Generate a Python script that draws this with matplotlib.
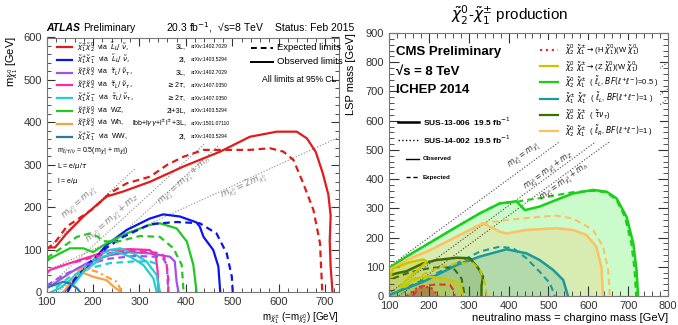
import matplotlib
matplotlib.use('Agg')
import matplotlib.pyplot as plt
from matplotlib.ticker import MultipleLocator
from matplotlib.patches import Rectangle

plt.rcParams['font.family'] = ['Liberation Sans', 'DejaVu Sans']
plt.rcParams['mathtext.fontset'] = 'dejavusans'

# ---------------- ATLAS (left) contours ----------------
red_obs_x = [100, 118, 143, 179, 229, 265, 323, 395, 474, 538, 596, 639, 661, 680, 695, 707, 712, 710, 712, 716]
red_obs_y = [105, 105, 138, 178, 225, 237, 260, 296, 331, 366, 378, 378, 362, 330, 280, 230, 180, 120, 60, 0]
red_exp_x = [100, 120, 143, 201, 236, 272, 323, 360, 395, 438, 538, 581, 610, 632, 653, 675, 689, 694]
red_exp_y = [100, 120, 154, 197, 233, 256, 272, 300, 319, 335, 335, 339, 331, 311, 256, 193, 115, 0]

blue_obs_x = [136, 150, 186, 229, 272, 322, 351, 387, 423, 430, 438, 459, 470, 474]
blue_obs_y = [0, 13, 56, 111, 146, 173, 183, 178, 164, 154, 130, 99, 60, 0]
blue_exp_x = [145, 160, 195, 230, 265, 300, 323, 380, 430, 466, 488, 499, 501]
blue_exp_y = [0, 30, 72, 105, 130, 148, 160, 165, 162, 138, 91, 36, 0]

green_obs_x = [100, 107, 150, 179, 200, 229, 272, 322, 344, 380, 402, 416, 423]
green_obs_y = [72, 79, 103, 103, 94, 115, 138, 158, 162, 150, 119, 64, 0]
green_exp_x = [100, 136, 165, 193, 211, 220, 250, 301, 344, 373, 391, 395]
green_exp_y = [80, 107, 130, 138, 130, 120, 118, 132, 130, 103, 64, 0]

purple_obs_x = [110, 150, 190, 236, 280, 322, 366, 376, 380, 384]
purple_obs_y = [15, 45, 70, 87, 94, 91, 83, 72, 24, 0]
purple_exp_x = [100, 107, 136, 180, 230, 290, 340, 351, 359, 362]
purple_exp_y = [15, 20, 40, 62, 78, 85, 83, 79, 64, 0]

magenta_obs_x = [100, 107, 150, 193, 236, 280, 322, 335, 339, 341]
magenta_obs_y = [44, 52, 68, 83, 99, 101, 99, 85, 50, 0]
magenta_exp_x = [160, 200, 250, 300, 340, 351, 358, 362, 362]
magenta_exp_y = [70, 82, 95, 97, 92, 87, 68, 30, 0]

cyan_obs_x = [110, 130, 150, 186, 215, 236, 258, 287, 315, 337, 344]
cyan_obs_y = [0, 10, 28, 64, 87, 99, 103, 91, 72, 40, 0]
cyan_obs2_x = [160, 179, 222, 251, 280, 308, 330, 337]
cyan_obs2_y = [20, 48, 83, 95, 83, 64, 32, 0]
cyan_exp_x = [120, 150, 193, 236, 287, 322, 344]
cyan_exp_y = [10, 36, 56, 68, 72, 72, 64]

orange_obs_x = [136, 150, 165, 172, 200, 229, 244, 260]
orange_obs_y = [0, 20, 40, 48, 36, 28, 13, 0]
orange_exp_x = [165, 179, 208, 229, 251, 262]
orange_exp_y = [50, 56, 48, 36, 24, 0]

ww_obs_x = [100, 107, 136, 150, 165, 172]
ww_obs_y = [9, 13, 24, 20, 9, 0]

atlas_colors = ['#e01b1b', '#0a14f0', '#a050f0', '#ff2aa0', '#20d0d0', '#20c820', '#ffa040', '#2a78a8']
atlas_labels = [r'$\tilde{\chi}_1^{\pm}\tilde{\chi}_2^{0}$  via  $\tilde{L}_L/\ \tilde{\nu},$',
                r'$\tilde{\chi}_1^{+}\tilde{\chi}_1^{-}$  via  $\tilde{L}_L/\ \tilde{\nu},$',
                r'$\tilde{\chi}_1^{\pm}\tilde{\chi}_2^{0}$  via  $\tilde{\tau}_L/\ \tilde{\nu}_\tau,$',
                r'$\tilde{\chi}_1^{\pm}\tilde{\chi}_2^{0}$  via  $\tilde{\tau}_L/\ \tilde{\nu}_\tau,$',
                r'$\tilde{\chi}_1^{+}\tilde{\chi}_1^{-}$  via  $\tilde{\tau}_L/\ \tilde{\nu}_\tau,$',
                r'$\tilde{\chi}_1^{\pm}\tilde{\chi}_2^{0}$  via  WZ,',
                r'$\tilde{\chi}_1^{\pm}\tilde{\chi}_2^{0}$  via  Wh,',
                r'$\tilde{\chi}_1^{+}\tilde{\chi}_1^{-}$  via  WW,']
atlas_channels = ['3L,', '2l,', '3L,', r'$\geq$2$\tau$,', r'$\geq$2$\tau$,', '2l+3L,',
                  r'lbb+l$\gamma\gamma$+l$^{\pm}$l$^{\pm}$+3L,', '2l,']
atlas_refs = ['arXiv:1402.7029', 'arXiv:1403.5294', 'arXiv:1402.7029', 'arXiv:1407.0350',
              'arXiv:1407.0350', 'arXiv:1403.5294', 'arXiv:1501.07110', 'arXiv:1403.5294']

# ---------------- CMS (right) contours ----------------
cms_green_obs_x = [100, 144, 186, 270, 328, 378, 420, 441, 478, 520, 562, 612, 646, 671, 696, 713, 721, 725]
cms_green_obs_y = [95, 135, 169, 237, 283, 317, 324, 294, 306, 329, 351, 363, 357, 334, 271, 180, 89, 0]
cms_green_exp_x = [100, 144, 186, 270, 328, 378, 420, 441, 480, 520, 560, 610, 645, 670, 692, 708, 716, 720]
cms_green_exp_y = [95, 135, 169, 237, 283, 317, 322, 328, 335, 345, 355, 360, 355, 330, 270, 180, 90, 0]

cms_orange_obs_x = [100, 144, 203, 261, 336, 378, 395, 445, 520, 562, 595, 620, 633, 637]
cms_orange_obs_y = [89, 123, 157, 197, 249, 220, 214, 226, 232, 226, 209, 169, 100, 0]
cms_orange_exp_x = [336, 395, 478, 520, 562, 612, 637, 650, 654]
cms_orange_exp_y = [249, 260, 271, 275, 265, 226, 169, 89, 0]

cms_teal_obs_x = [100, 186, 270, 328, 395, 445, 478, 512, 537, 549]
cms_teal_obs_y = [3, 49, 106, 135, 160, 146, 123, 89, 55, 0]
cms_teal_exp_x = [100, 186, 270, 328, 378, 412, 445, 478, 504, 516]
cms_teal_exp_y = [3, 55, 112, 152, 169, 163, 129, 83, 43, 0]

cms_olive_obs_x = [100, 120, 144, 186, 219, 270, 303, 324, 336, 332, 332]
cms_olive_obs_y = [70, 78, 85, 112, 123, 131, 129, 95, 66, 34, 0]
cms_olive_exp_x = [110, 150, 200, 240, 265, 282, 290]
cms_olive_exp_y = [60, 80, 95, 100, 90, 60, 0]

cms_yellow_obs_x = [100, 111, 150, 186, 195, 178, 144, 128, 140, 161, 203, 253, 278, 286]
cms_yellow_obs_y = [60, 95, 115, 125, 118, 95, 55, 30, 35, 60, 66, 55, 43, 0]
cms_yellow_exp_x = [140, 180, 230, 270, 311, 328, 341, 345]
cms_yellow_exp_y = [30, 70, 100, 112, 112, 89, 43, 0]

cms_red_obs_x = [144, 169, 203, 219, 225]
cms_red_obs_y = [0, 26, 32, 9, 0]
cms_red_exp_x = [160, 178, 219, 253, 261, 265]
cms_red_exp_y = [0, 32, 40, 38, 21, 0]

cms_colors = ['#e83030', '#c8c800', '#18d018', '#1a9a9a', '#3e6e00', '#ffc060']
cms_labels = [r'$\tilde{\chi}_2^{0}\ \tilde{\chi}_1^{\pm}\rightarrow$(H $\tilde{\chi}_1^{0}$)(W $\tilde{\chi}_1^{0}$)',
              r'$\tilde{\chi}_2^{0}\ \tilde{\chi}_1^{\pm}\rightarrow$(Z $\tilde{\chi}_1^{0}$)(W $\tilde{\chi}_1^{0}$)',
              r'$\tilde{\chi}_2^{0}\ \tilde{\chi}_1^{\pm}$  ( $\tilde{\ell}_L$, $BF(\ell^{+}\ell^{-})$=0.5 )',
              r'$\tilde{\chi}_1^{\pm}\ \tilde{\chi}_1^{\mp}$  ( $\tilde{\ell}_L$, $BF(\ell^{+}\ell^{-})$=1 )',
              r'$\tilde{\chi}_2^{0}\ \tilde{\chi}_1^{\pm}$  ( $\tilde{\tau}\nu_\tau$)',
              r'$\tilde{\chi}_2^{0}\ \tilde{\chi}_1^{\pm}$  ( $\tilde{\ell}_R$, $BF(\ell^{+}\ell^{-})$=1 )']


def fx(x):
    return x / 678.0


def fy(y):
    return 1 - y / 325.0


fig = plt.figure(figsize=(6.78, 3.25), dpi=100)

# ================= left panel =================
ax1 = fig.add_axes([fx(46.7), fy(292), fx(339) - fx(46.7), fy(37.5) - fy(292)])
ax1.set_xlim(100, 730)
ax1.set_ylim(0, 600)

# kinematic reference lines
ax1.plot([100, 290], [100, 290], ls=':', c='#888888', lw=0.8)
ax1.plot([100, 440], [9, 349], ls=':', c='#888888', lw=0.8)
ax1.plot([125, 470], [0, 345], ls=':', c='#888888', lw=0.8)
ax1.plot([100, 730], [50, 365], ls=':', c='#888888', lw=0.8)
lab_kw = dict(color='#888888', fontsize=6.5, ha='center', va='center')
ax1.text(172, 207, r'$m_{\tilde{\chi}_2^0}=m_{\tilde{\chi}_1^0}$', rotation=42, **lab_kw)
ax1.text(243, 172, r'$m_{\tilde{\chi}_2^0}=m_{\tilde{\chi}_1^0}+m_Z$', rotation=42, **lab_kw)
ax1.text(398, 262, r'$m_{\tilde{\chi}_2^0}=m_{\tilde{\chi}_1^0}+m_h$', rotation=42, **lab_kw)
ax1.text(525, 248, r'$m_{\tilde{\chi}_2^0}=2m_{\tilde{\chi}_1^0}$', rotation=24, **lab_kw)

obs = [(red_obs_x, red_obs_y), (blue_obs_x, blue_obs_y), (purple_obs_x, purple_obs_y),
       (magenta_obs_x, magenta_obs_y), (cyan_obs_x, cyan_obs_y), (green_obs_x, green_obs_y),
       (orange_obs_x, orange_obs_y), (ww_obs_x, ww_obs_y)]
exp = [(red_exp_x, red_exp_y), (blue_exp_x, blue_exp_y), (purple_exp_x, purple_exp_y),
       (magenta_exp_x, magenta_exp_y), (cyan_exp_x, cyan_exp_y), (green_exp_x, green_exp_y)]
for (x, y), c in zip(obs, atlas_colors):
    ax1.plot(x, y, c=c, lw=1.6)
for (x, y), c in zip(exp, atlas_colors):
    ax1.plot(x, y, c=c, lw=1.6, ls=(0, (3, 2)))
ax1.plot(cyan_obs2_x, cyan_obs2_y, c=atlas_colors[4], lw=1.6)
ax1.plot(orange_exp_x, orange_exp_y, c=atlas_colors[6], lw=1.6, ls=(0, (3, 1.5, 1, 1.5)))

ax1.xaxis.set_major_locator(MultipleLocator(100))
ax1.xaxis.set_minor_locator(MultipleLocator(20))
ax1.yaxis.set_major_locator(MultipleLocator(100))
ax1.yaxis.set_minor_locator(MultipleLocator(20))
ax1.tick_params(which='both', direction='in', top=True, right=True, labelsize=8, colors='#333333')
ax1.tick_params(which='major', length=6)
ax1.tick_params(which='minor', length=3)
for s in ax1.spines.values():
    s.set_color('#777777')

# legend of the left panel
for i in range(len(atlas_labels)):
    y = 47 + i * 12.8
    fig.add_artist(plt.Line2D([fx(57), fx(72)], [fy(y), fy(y)], color=atlas_colors[i], lw=1.6))
    fig.text(fx(77), fy(y), atlas_labels[i], fontsize=5, va='center')
    fig.text(fx(186), fy(y), atlas_channels[i], fontsize=5, va='center', ha='right')
    fig.text(fx(191), fy(y), atlas_refs[i], fontsize=3.6, va='center')
fig.text(fx(57), fy(151), r'm$_{\tilde{\ell}/\tilde{\tau}/\tilde{\nu}}$ = 0.5(m$_{\tilde{\chi}_1^0}$ + m$_{\tilde{\chi}_2^0}$)',
         fontsize=5, va='center')
fig.text(fx(57), fy(166), r'L = e/$\mu$/$\tau$', fontsize=5, va='center')
fig.text(fx(57), fy(181), r'l = e/$\mu$', fontsize=5, va='center')

fig.add_artist(plt.Line2D([fx(251), fx(273)], [fy(48), fy(48)], color='k', lw=1.4, ls=(0, (3, 2))))
fig.add_artist(plt.Line2D([fx(251), fx(273)], [fy(62), fy(62)], color='k', lw=1.4))
fig.text(fx(277), fy(48), 'Expected limits', fontsize=6.8, va='center')
fig.text(fx(277), fy(62), 'Observed limits', fontsize=6.8, va='center')
fig.text(fx(262), fy(80), 'All limits at 95% CL', fontsize=6.2, va='center')

fig.text(fx(46), fy(28), 'ATLAS', fontsize=7.5, fontweight='bold', fontstyle='italic', va='center')
fig.text(fx(83), fy(28), 'Preliminary', fontsize=7.5, va='center')
fig.text(fx(166), fy(28), '20.3 fb$^{-1}$,  \u221as=8 TeV', fontsize=7.5, va='center')
fig.text(fx(275), fy(28), 'Status: Feb 2015', fontsize=7.5, va='center')

fig.text(fx(12), fy(36), r'm$_{\tilde{\chi}_1^0}$ [GeV]', fontsize=8, rotation=90, ha='center', va='top')
fig.text(fx(339), fy(318), r'm$_{\tilde{\chi}_1^{\pm}}$ (=m$_{\tilde{\chi}_2^0}$) [GeV]', fontsize=7,
         ha='right', va='center')

# ================= right panel =================
ax2 = fig.add_axes([fx(389), fy(296), fx(668) - fx(389), fy(33) - fy(296)])
ax2.set_xlim(100, 800)
ax2.set_ylim(0, 900)

ax2.plot([100, 800], [100, 800], ls=':', c='#444444', lw=0.8)
ax2.plot([100, 800], [9, 709], ls=':', c='#444444', lw=0.8)
ax2.plot([125, 800], [0, 675], ls=':', c='#444444', lw=0.8)
lab2 = dict(color='#333333', fontsize=5.5, ha='center', va='center', rotation=36)
ax2.text(440, 478, r'$m_{\tilde{\chi}_2^0}=m_{\tilde{\chi}_1^0}$', **lab2)
ax2.text(500, 428, r'$m_{\tilde{\chi}_2^0}=m_{\tilde{\chi}_1^0}+m_Z$', **lab2)
ax2.text(540, 388, r'$m_{\tilde{\chi}_2^0}=m_{\tilde{\chi}_1^0}+m_h$', **lab2)

fills = [(cms_green_obs_x, cms_green_obs_y, '#33ee33', 0.25),
         (cms_orange_obs_x, cms_orange_obs_y, cms_colors[5], 0.25),
         (cms_teal_obs_x, cms_teal_obs_y, cms_colors[3], 0.2),
         (cms_olive_obs_x, cms_olive_obs_y, cms_colors[4], 0.15),
         (cms_yellow_obs_x, cms_yellow_obs_y, cms_colors[1], 0.3),
         (cms_red_obs_x, cms_red_obs_y, '#a04020', 0.45)]
for x, y, c, a in fills:
    ax2.fill(list(x) + [100], list(y) + [0], color=c, alpha=a, lw=0)

ax2.plot(cms_green_exp_x, cms_green_exp_y, c=cms_colors[2], lw=1.5, ls=(0, (3, 2)))
ax2.plot(cms_green_obs_x, cms_green_obs_y, c=cms_colors[2], lw=1.8)
ax2.plot(cms_orange_obs_x[:5] + cms_orange_exp_x[1:], cms_orange_obs_y[:5] + cms_orange_exp_y[1:],
         c=cms_colors[5], lw=1.5, ls=(0, (3, 2)))
ax2.plot(cms_orange_obs_x, cms_orange_obs_y, c=cms_colors[5], lw=1.8)
ax2.plot(cms_teal_exp_x, cms_teal_exp_y, c=cms_colors[3], lw=1.5, ls=(0, (3, 2)))
ax2.plot(cms_teal_obs_x, cms_teal_obs_y, c=cms_colors[3], lw=1.8)
ax2.plot(cms_olive_exp_x, cms_olive_exp_y, c=cms_colors[4], lw=1.5, ls=(0, (3, 2)))
ax2.plot(cms_olive_obs_x, cms_olive_obs_y, c=cms_colors[4], lw=1.8)
ax2.plot(cms_yellow_exp_x, cms_yellow_exp_y, c=cms_colors[1], lw=1.5, ls=(0, (3, 2)))
ax2.plot(cms_yellow_obs_x, cms_yellow_obs_y, c=cms_colors[1], lw=1.8)
ax2.plot(cms_red_exp_x, cms_red_exp_y, c=cms_colors[0], lw=1.5, ls=(0, (3, 2)))
ax2.plot(cms_red_obs_x, cms_red_obs_y, c=cms_colors[0], lw=1.5, ls=':')

ax2.add_patch(Rectangle((fx(532), fy(142)), fx(660) - fx(532), fy(40) - fy(142),
                        transform=fig.transFigure, facecolor='white', edgecolor='none', zorder=3))

ax2.xaxis.set_major_locator(MultipleLocator(100))
ax2.xaxis.set_minor_locator(MultipleLocator(20))
ax2.yaxis.set_major_locator(MultipleLocator(100))
ax2.yaxis.set_minor_locator(MultipleLocator(20))
ax2.tick_params(which='both', direction='in', top=True, right=True, labelsize=8, colors='#333333')
ax2.tick_params(which='major', length=7)
ax2.tick_params(which='minor', length=3.5)
for s in ax2.spines.values():
    s.set_color('#777777')

for i in range(len(cms_labels)):
    y = 50 + i * 16.2
    ls = ':' if i == 0 else '-'
    fig.add_artist(plt.Line2D([fx(540), fx(558)], [fy(y), fy(y)], color=cms_colors[i], lw=1.6, ls=ls))
    fig.text(fx(565), fy(y), cms_labels[i], fontsize=5.5, va='center')

fig.text(fx(396), fy(52), 'CMS Preliminary', fontsize=9.5, fontweight='bold', va='center')
fig.text(fx(396), fy(72), '\u221as = 8 TeV', fontsize=9.5, fontweight='bold', va='center')
fig.text(fx(396), fy(90), 'ICHEP 2014', fontsize=9.5, fontweight='bold', va='center')
fig.add_artist(plt.Line2D([fx(398), fx(419)], [fy(122), fy(122)], color='k', lw=1.8))
fig.add_artist(plt.Line2D([fx(398), fx(419)], [fy(140), fy(140)], color='k', lw=1.0, ls=':'))
fig.text(fx(423), fy(122), r'SUS-13-006  19.5 fb$^{-1}$', fontsize=6, fontweight='bold', va='center')
fig.text(fx(423), fy(140), r'SUS-14-002  19.5 fb$^{-1}$', fontsize=6, fontweight='bold', va='center')
fig.add_artist(plt.Line2D([fx(406), fx(419)], [fy(159), fy(159)], color='k', lw=1.0))
fig.add_artist(plt.Line2D([fx(406), fx(419)], [fy(177), fy(177)], color='k', lw=1.0, ls=(0, (3, 2))))
fig.text(fx(423), fy(159), 'Observed', fontsize=4.5, fontweight='bold', va='center')
fig.text(fx(423), fy(177), 'Expected', fontsize=4.5, fontweight='bold', va='center')

fig.text(fx(510), fy(15), r'$\tilde{\chi}_2^{0}$-$\tilde{\chi}_1^{\pm}$ production', fontsize=11,
         ha='center', va='center')
fig.text(fx(351), fy(33), 'LSP mass [GeV]', fontsize=8, rotation=90, ha='center', va='top')
fig.text(fx(668), fy(318), 'neutralino mass = chargino mass [GeV]', fontsize=8, ha='right', va='center')

fig.savefig('out.png', dpi=100)
